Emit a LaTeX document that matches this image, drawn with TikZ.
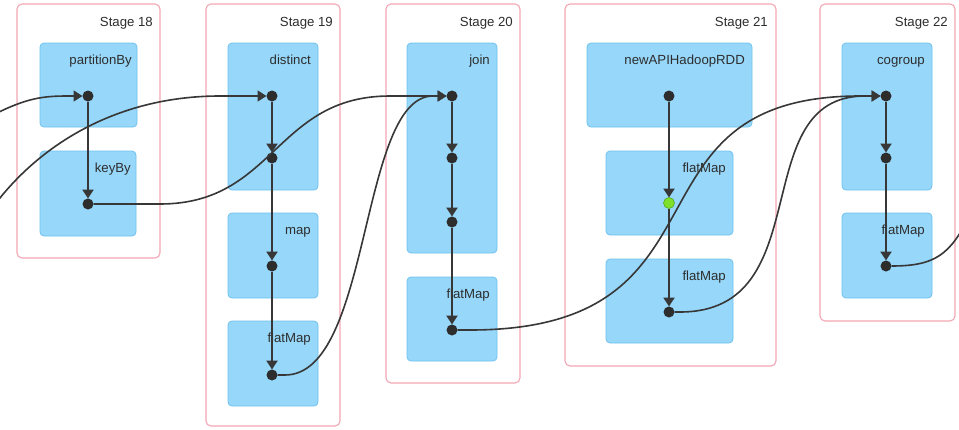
\documentclass[tikz,border=0pt]{standalone}
\usepackage{fontspec}
\setmainfont{Liberation Sans}
\usetikzlibrary{arrows.meta,calc}

\definecolor{stageline}{RGB}{242,166,180}
\definecolor{opfill}{RGB}{150,215,250}
\definecolor{opline}{RGB}{112,194,238}
\definecolor{ink}{RGB}{45,45,45}
\definecolor{edgeink}{RGB}{55,55,55}
\definecolor{cachedfill}{RGB}{126,224,42}
\definecolor{cachedline}{RGB}{88,168,30}

\begin{document}
\begin{tikzpicture}[x=1pt,y=-1pt,
  stagebox/.style={draw=stageline, line width=1.1pt, fill=white, rounded corners=5pt,
                   anchor=north west, inner sep=0pt, outer sep=0pt},
  opbox/.style={draw=opline, line width=0.8pt, fill=opfill, rounded corners=4pt,
                anchor=north west, inner sep=0pt, outer sep=0pt},
  caption/.style={anchor=base east, text=ink, inner sep=0pt,
                  font=\fontsize{13.2}{15}\selectfont},
  rdd/.style={circle, fill=ink, minimum size=11pt, inner sep=0pt, outer sep=0pt},
  cachedrdd/.style={rdd, fill=cachedfill, draw=cachedline, line width=0.6pt},
  dep/.style={draw=edgeink, line width=2.2pt, -{Triangle[length=9pt,width=11pt]}},
  shuffle/.style={draw=edgeink, line width=1.6pt, -{Triangle[length=9pt,width=11pt]}},
  tail/.style={draw=edgeink, line width=1.6pt},
]
\useasboundingbox (0,0) rectangle (959,429);

% ---- stages ----
\node[stagebox, minimum width=143pt, minimum height=254pt] (s18) at (17,4) {};
\node[stagebox, minimum width=134pt, minimum height=422pt] (s19) at (206,4) {};
\node[stagebox, minimum width=134pt, minimum height=379pt] (s20) at (386,4) {};
\node[stagebox, minimum width=211pt, minimum height=362pt] (s21) at (565,4) {};
\node[stagebox, minimum width=135pt, minimum height=317pt] (s22) at (820,4) {};

\node[caption] (t18) at ($(s18.north east)+(-7,22)$) {Stage 18};
\node[caption] (t19) at ($(s19.north east)+(-7,22)$) {Stage 19};
\node[caption] (t20) at ($(s20.north east)+(-7,22)$) {Stage 20};
\node[caption] (t21) at ($(s21.north east)+(-8,22)$) {Stage 21};
\node[caption] (t22) at ($(s22.north east)+(-7,22)$) {Stage 22};

% ---- operations ----
\node[opbox, minimum width=97pt,  minimum height=84pt]  (o1)  at (40,43)  {};
\node[opbox, minimum width=96pt,  minimum height=85pt]  (o2)  at (40,151) {};
\node[opbox, minimum width=90pt,  minimum height=147pt] (o3)  at (228,43) {};
\node[opbox, minimum width=90pt,  minimum height=85pt]  (o4)  at (228,213) {};
\node[opbox, minimum width=90pt,  minimum height=85pt]  (o5)  at (228,321) {};
\node[opbox, minimum width=90pt,  minimum height=210pt] (o6)  at (407,43) {};
\node[opbox, minimum width=90pt,  minimum height=84pt]  (o7)  at (407,277) {};
\node[opbox, minimum width=165pt, minimum height=84pt]  (o8)  at (587,43) {};
\node[opbox, minimum width=127pt, minimum height=84pt]  (o9)  at (606,151) {};
\node[opbox, minimum width=127pt, minimum height=84pt]  (o10) at (606,259) {};
\node[opbox, minimum width=90pt,  minimum height=147pt] (o11) at (842,43) {};
\node[opbox, minimum width=90pt,  minimum height=85pt]  (o12) at (842,213) {};

\node[caption] (n1)  at ($(o1.north east)+(-5,21)$)  {partitionBy};
\node[caption] (n2)  at ($(o2.north east)+(-5,21)$)  {keyBy};
\node[caption] (n3)  at ($(o3.north east)+(-7,21)$)  {distinct};
\node[caption] (n4)  at ($(o4.north east)+(-7,21)$)  {map};
\node[caption] (n5)  at ($(o5.north east)+(-7,21)$)  {flatMap};
\node[caption] (n6)  at ($(o6.north east)+(-7,21)$)  {join};
\node[caption] (n7)  at ($(o7.north east)+(-7,21)$)  {flatMap};
\node[caption] (n8)  at ($(o8.north east)+(-7,21)$)  {newAPIHadoopRDD};
\node[caption] (n9)  at ($(o9.north east)+(-7,21)$)  {flatMap};
\node[caption] (n10) at ($(o10.north east)+(-7,21)$) {flatMap};
\node[caption] (n11) at ($(o11.north east)+(-7,21)$) {cogroup};
\node[caption] (n12) at ($(o12.north east)+(-7,21)$) {flatMap};

% ---- RDDs ----
\node[rdd] (pb) at (88,96) {};
\node[rdd] (kb) at (88,204) {};

\node[rdd] (d1) at (272,96) {};
\node[rdd] (d2) at (272,158) {};
\node[rdd] (d3) at (272,266) {};
\node[rdd] (d4) at (272,375) {};

\node[rdd] (j1) at (452,96) {};
\node[rdd] (j2) at (452,158) {};
\node[rdd] (j3) at (452,222) {};
\node[rdd] (j4) at (452,330) {};

\node[rdd]       (h1) at (669,96) {};
\node[cachedrdd] (h2) at (669,203) {};
\node[rdd]       (h3) at (669,312) {};

\node[rdd] (c1) at (886,96) {};
\node[rdd] (c2) at (886,158) {};
\node[rdd] (c3) at (886,266) {};

\coordinate (inA) at (-5,114);
\coordinate (inB) at (-4,203);
\coordinate (outA) at (970,215);

% ---- narrow dependencies ----
\draw[dep] (pb) -- (kb);
\draw[dep] (d1) -- (d2);
\draw[dep] (d2) -- (d3);
\draw[dep] (d3) -- (d4);
\draw[dep] (j1) -- (j2);
\draw[dep] (j2) -- (j3);
\draw[dep] (j3) -- (j4);
\draw[dep] (h1) -- (h2);
\draw[dep] (h2) -- (h3);
\draw[dep] (c1) -- (c2);
\draw[dep] (c2) -- (c3);

% ---- shuffle dependencies ----
\draw[shuffle] (inA) .. controls +(32,-16) and +(-25,0) .. ($(pb)+(-20,0)$) -- (pb);
\draw[shuffle] (inB) .. controls +(47,-61) and +(-100,0) .. ($(d1)+(-52,0)$) -- (d1);
\draw[shuffle] (kb) -- ($(kb)+(72,0)$) .. controls +(115,0) and +(-115,0) .. ($(j1)+(-62,0)$) -- (j1);
\draw[shuffle] (d4) -- ($(d4)+(13,0)$) .. controls +(87,0) and +(-74,0) .. ($(j1)+(-19,0)$) -- (j1);
\draw[shuffle] (j4) -- ($(j4)+(18,0)$) .. controls +(273,0) and +(-247,0) .. ($(c1)+(-26,0)$) -- (c1);
\draw[shuffle] (h3) -- ($(h3)+(11,0)$) .. controls +(141,0) and +(-121,0) .. ($(c1)+(-21,0)$) -- (c1);
\draw[tail] (c3) .. controls +(49,0) and +(-20,40) .. (outA);

\end{tikzpicture}
\end{document}
